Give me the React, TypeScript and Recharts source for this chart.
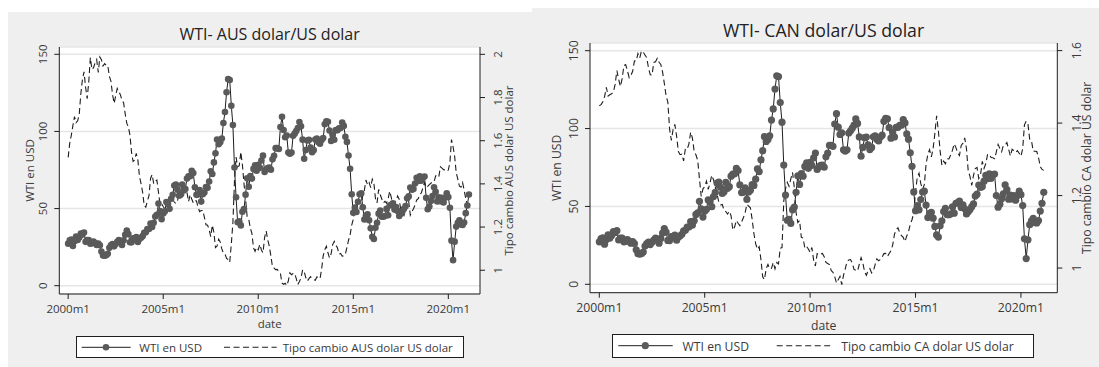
import { ComposedChart, Line, XAxis, YAxis, CartesianGrid, Legend } from 'recharts';

// Monthly series, 2000m1 .. 2021m2 (index 0 = 2000m1)
const wtiUsd: number[] = [
  27.26, 29.37, 29.84, 25.72, 28.79, 31.82, 29.7, 31.26, 33.88, 33.11, 34.42, 28.44,
  29.59, 29.61, 27.25, 27.49, 28.63, 27.6, 26.43, 27.37, 26.2, 22.17, 19.64, 19.39,
  19.72, 20.72, 24.53, 26.18, 27.04, 25.52, 26.97, 28.39, 29.66, 28.84, 26.35, 29.46,
  32.95, 35.83, 33.51, 28.17, 28.11, 30.66, 30.75, 31.57, 28.31, 30.34, 31.11, 32.13,
  34.31, 34.69, 36.74, 36.75, 40.28, 38.03, 40.78, 44.9, 45.94, 53.28, 48.47, 43.15,
  46.84, 48.15, 54.19, 52.98, 49.83, 56.35, 59.0, 64.99, 65.59, 62.26, 58.32, 59.41,
  65.49, 61.63, 62.69, 69.44, 70.84, 70.95, 74.41, 73.04, 63.8, 58.89, 59.08, 61.96,
  54.51, 59.28, 60.44, 63.98, 63.46, 67.49, 74.12, 72.36, 79.92, 85.8, 94.77, 91.69,
  92.97, 95.39, 105.45, 112.58, 125.4, 133.88, 133.37, 116.67, 104.11, 76.61, 57.31, 41.12,
  41.71, 39.09, 47.94, 49.65, 59.03, 69.64, 64.15, 71.05, 69.41, 75.72, 77.99, 74.47,
  78.33, 76.39, 81.2, 84.29, 73.74, 75.34, 76.32, 76.6, 75.24, 81.89, 84.25, 89.15,
  89.17, 88.58, 102.86, 109.53, 100.9, 96.26, 97.3, 86.33, 85.52, 86.32, 97.16, 98.56,
  100.27, 102.2, 106.16, 103.32, 94.66, 82.3, 87.9, 94.13, 94.51, 89.49, 86.53, 87.86,
  94.76, 95.31, 92.94, 92.02, 94.51, 95.77, 104.67, 106.57, 106.29, 100.54, 93.86, 97.63,
  94.62, 100.82, 100.8, 102.07, 102.18, 105.79, 103.59, 96.54, 93.21, 84.4, 75.79, 59.29,
  47.22, 50.58, 47.82, 54.45, 59.27, 59.82, 50.9, 42.87, 45.48, 46.22, 42.44, 37.19,
  31.68, 30.32, 37.55, 40.75, 46.71, 48.76, 44.65, 44.72, 45.18, 49.78, 45.66, 51.97,
  52.5, 53.47, 49.33, 51.06, 48.48, 45.18, 46.63, 48.04, 49.82, 51.58, 56.64, 57.88,
  63.7, 62.23, 62.73, 66.25, 69.98, 67.87, 70.98, 68.06, 70.23, 70.75, 56.96, 49.52,
  51.38, 54.95, 58.15, 63.86, 60.83, 54.66, 57.35, 54.81, 56.95, 53.96, 57.03, 59.88,
  57.52, 50.54, 29.21, 16.55, 28.56, 38.31, 40.71, 42.34, 39.63, 39.4, 40.94, 47.02,
  52.0, 59.04,
];

const audPerUsd: number[] = [
  1.523, 1.589, 1.626, 1.671, 1.712, 1.684, 1.692, 1.724, 1.818, 1.883, 1.919, 1.848,
  1.795, 1.873, 1.985, 1.93, 1.938, 1.961, 1.976, 1.916, 1.988, 1.975, 1.946, 1.957,
  1.949, 1.949, 1.898, 1.876, 1.815, 1.773, 1.808, 1.842, 1.828, 1.812, 1.786, 1.776,
  1.724, 1.681, 1.664, 1.626, 1.546, 1.504, 1.511, 1.541, 1.511, 1.435, 1.401, 1.362,
  1.3, 1.292, 1.321, 1.344, 1.425, 1.443, 1.401, 1.412, 1.418, 1.362, 1.304, 1.307,
  1.295, 1.285, 1.282, 1.295, 1.311, 1.309, 1.328, 1.316, 1.309, 1.321, 1.353, 1.355,
  1.339, 1.348, 1.385, 1.361, 1.318, 1.35, 1.33, 1.312, 1.323, 1.321, 1.292, 1.272,
  1.277, 1.277, 1.245, 1.211, 1.209, 1.188, 1.156, 1.209, 1.175, 1.105, 1.112, 1.144,
  1.131, 1.099, 1.08, 1.075, 1.055, 1.05, 1.037, 1.121, 1.221, 1.414, 1.524, 1.479,
  1.484, 1.548, 1.488, 1.401, 1.328, 1.248, 1.236, 1.195, 1.171, 1.104, 1.088, 1.106,
  1.095, 1.12, 1.094, 1.081, 1.151, 1.182, 1.14, 1.111, 1.065, 1.015, 1.01, 1.003,
  1.004, 0.993, 0.985, 0.94, 0.935, 0.94, 0.929, 0.951, 0.988, 0.979, 0.985, 0.986,
  0.961, 0.934, 0.948, 0.964, 1.002, 0.994, 0.966, 0.95, 0.961, 0.97, 0.961, 0.957,
  0.954, 0.969, 0.967, 0.961, 1.005, 1.067, 1.095, 1.111, 1.081, 1.057, 1.076, 1.119,
  1.134, 1.116, 1.104, 1.074, 1.078, 1.065, 1.067, 1.075, 1.106, 1.139, 1.164, 1.209,
  1.235, 1.282, 1.307, 1.292, 1.282, 1.295, 1.35, 1.37, 1.418, 1.395, 1.406, 1.383,
  1.422, 1.403, 1.332, 1.312, 1.374, 1.351, 1.33, 1.312, 1.319, 1.311, 1.332, 1.366,
  1.337, 1.305, 1.312, 1.323, 1.344, 1.328, 1.279, 1.261, 1.253, 1.289, 1.314, 1.319,
  1.255, 1.271, 1.285, 1.302, 1.325, 1.332, 1.35, 1.359, 1.383, 1.406, 1.383, 1.389,
  1.397, 1.403, 1.41, 1.41, 1.437, 1.441, 1.433, 1.479, 1.473, 1.466, 1.464, 1.458,
  1.464, 1.499, 1.605, 1.572, 1.527, 1.451, 1.422, 1.389, 1.385, 1.406, 1.37, 1.333,
  1.299, 1.294,
];

const cadPerUsd: number[] = [
  1.4481, 1.4509, 1.4589, 1.4732, 1.4986, 1.4747, 1.4782, 1.4807, 1.4856, 1.5067, 1.5446, 1.5211,
  1.5012, 1.5226, 1.5589, 1.5615, 1.5445, 1.5251, 1.5318, 1.5431, 1.5716, 1.5714, 1.5917, 1.5798,
  1.599, 1.5956, 1.5878, 1.5802, 1.5523, 1.5334, 1.5323, 1.5672, 1.569, 1.5787, 1.5677, 1.5618,
  1.5411, 1.51, 1.4761, 1.4582, 1.384, 1.3525, 1.3821, 1.3963, 1.3639, 1.3216, 1.3128, 1.3143,
  1.2958, 1.3299, 1.3286, 1.342, 1.375, 1.3586, 1.3216, 1.3127, 1.2975, 1.2469, 1.1975, 1.2185,
  1.2243, 1.24, 1.217, 1.2343, 1.2561, 1.2438, 1.2238, 1.2044, 1.1825, 1.1741, 1.1753, 1.1594,
  1.156, 1.149, 1.1568, 1.1441, 1.1049, 1.1132, 1.1315, 1.1237, 1.1172, 1.1273, 1.1388, 1.1526,
  1.176, 1.171, 1.1662, 1.1346, 1.0953, 1.0673, 1.0519, 1.059, 1.0236, 0.9761, 0.9681, 0.9989,
  1.01, 0.9978, 0.9991, 1.0152, 0.9978, 1.0152, 1.0113, 1.0549, 1.0566, 1.1847, 1.2186, 1.2362,
  1.2255, 1.2459, 1.264, 1.2213, 1.1532, 1.1255, 1.1311, 1.0846, 1.0827, 1.0546, 1.0592, 1.0527,
  1.0435, 1.0568, 1.0219, 1.0057, 1.0398, 1.0366, 1.0388, 1.0402, 1.0315, 1.0157, 1.0124, 1.0097,
  0.9932, 0.9883, 0.9764, 0.9588, 0.968, 0.9771, 0.9541, 0.9798, 0.998, 1.018, 1.0224, 1.0234,
  1.0139, 0.9962, 0.994, 0.9916, 1.0105, 1.0289, 1.0142, 0.9899, 0.9801, 0.9929, 0.9984, 0.9867,
  0.992, 1.0097, 1.0254, 1.02, 1.0236, 1.0302, 1.0398, 1.0403, 1.032, 1.04, 1.0477, 1.0635,
  1.093, 1.1051, 1.1112, 1.0975, 1.0892, 1.0845, 1.0733, 1.0886, 1.0999, 1.1212, 1.1334, 1.1531,
  1.2117, 1.2509, 1.2619, 1.2329, 1.2167, 1.2301, 1.2865, 1.3141, 1.3267, 1.3068, 1.3291, 1.371,
  1.4198, 1.3793, 1.3229, 1.2838, 1.2951, 1.288, 1.3017, 1.3011, 1.3119, 1.3246, 1.3427, 1.3323,
  1.3179, 1.3105, 1.3384, 1.3446, 1.3592, 1.3297, 1.2675, 1.2528, 1.2281, 1.256, 1.2746, 1.2778,
  1.247, 1.2572, 1.2942, 1.2751, 1.2884, 1.3129, 1.3147, 1.3048, 1.3042, 1.3016, 1.3206, 1.3412,
  1.3298, 1.3207, 1.3381, 1.3393, 1.3464, 1.3278, 1.3093, 1.3276, 1.3236, 1.3188, 1.3241, 1.3169,
  1.3085, 1.3294, 1.3951, 1.4051, 1.3976, 1.3549, 1.3513, 1.3227, 1.3224, 1.3216, 1.305, 1.28,
  1.2721, 1.2695,
];

const dateTicks = [0, 60, 120, 180, 240];
const dateLabels = ['2000m1', '2005m1', '2010m1', '2015m1', '2020m1'];
const wtiTicks = [0, 50, 100, 150];
const audTicks = [1, 1.2, 1.4, 1.6, 1.8, 2];
const cadTicks = [1, 1.2, 1.4, 1.6];

const FONT = '"Open Sans", "DejaVu Sans", sans-serif';
const INK = '#1e1e1e';
const TEXT = '#3a3a3a';
const MARKER = '#5a5a5a';
const PANEL_BG = '#efefef';
const DASH = '6 3.5';

const VTick = (props: any) => {
  const { x, y, payload, side, d, fs } = props;
  const cx = side === 'left' ? x - d : x + d;
  return (
    <text x={cx} y={y} transform={`rotate(-90 ${cx} ${y})`} textAnchor="middle"
      dominantBaseline="central" fontSize={fs} fontFamily={FONT} fill={TEXT}>
      {String(payload.value)}
    </text>
  );
};

const DateTick = (props: any) => {
  const { x, y, payload, d, fs } = props;
  const label = dateLabels[dateTicks.indexOf(payload.value)];
  return (
    <text x={x} y={y + d} textAnchor="middle" dominantBaseline="central"
      fontSize={fs} fontFamily={FONT} fill={TEXT}>
      {label}
    </text>
  );
};

const VTitle = (props: any) => {
  const { viewBox, px, text, fs } = props;
  const cy = viewBox ? viewBox.y + viewBox.height / 2 : 160;
  return (
    <text x={px} y={cy} transform={`rotate(-90 ${px} ${cy})`} textAnchor="middle"
      dominantBaseline="central" fontSize={fs} fontFamily={FONT} fill={TEXT}>
      {text}
    </text>
  );
};

const HTitle = (props: any) => {
  const { viewBox, py, text, fs } = props;
  const cx = viewBox ? viewBox.x + viewBox.width / 2 : 260;
  return (
    <text x={cx} y={py} textAnchor="middle" dominantBaseline="central"
      fontSize={fs} fontFamily={FONT} fill={TEXT}>
      {text}
    </text>
  );
};

interface LegendGeom {
  x: number; y: number; w: number; h: number;
  l1: number; l2: number; m: number; t1: number; d1: number; d2: number; t2: number;
}

const LegendBox = ({ g, fxLabel, fs, r }: { g: LegendGeom; fxLabel: string; fs: number; r: number }) => {
  const mid = g.h / 2 - 1;
  return (
    <div style={{
      position: 'relative', width: g.w, height: g.h, boxSizing: 'border-box',
      border: `1px solid ${INK}`, background: '#fff', fontFamily: FONT, fontSize: fs, color: TEXT,
    }}>
      <svg width={g.w} height={g.h} style={{ position: 'absolute', left: -1, top: -1 }}>
        <line x1={g.l1} x2={g.l2} y1={mid + 1} y2={mid + 1} stroke={INK} strokeWidth={1} />
        <circle cx={g.m} cy={mid + 1} r={r} fill={MARKER} />
        <line x1={g.d1} x2={g.d2} y1={mid + 1} y2={mid + 1} stroke={INK} strokeWidth={1.1} strokeDasharray={DASH} />
      </svg>
      <span style={{ position: 'absolute', left: g.t1 - 1, top: mid, transform: 'translateY(-50%)', whiteSpace: 'nowrap' }}>
        WTI en USD
      </span>
      <span style={{ position: 'absolute', left: g.t2 - 1, top: mid, transform: 'translateY(-50%)', whiteSpace: 'nowrap' }}>
        {fxLabel}
      </span>
    </div>
  );
};

interface PanelProps {
  left: number; top: number; width: number; height: number;
  plotLeft: number; plotRight: number; plotTop: number; plotBottom: number;
  title: string; titleX: number; titleY: number; titleFs: number;
  fs: number; r: number;
  fx: number[]; fxTicks: number[]; fxDomain: [number, number];
  wtiDomain: [number, number]; xDomain: [number, number];
  fxAxisTitle: string; fxLabel: string;
  leftTitleX: number; rightTitleX: number; dateY: number;
  tickD: [number, number, number];
  legend: LegendGeom;
}

const Panel = (p: PanelProps) => {
  const rows = p.fx.map((v, i) => ({ t: i, wti: wtiUsd[i], fx: v }));
  return (
    <div style={{ position: 'absolute', left: p.left, top: p.top, width: p.width, height: p.height, background: PANEL_BG }}>
      <div style={{
        position: 'absolute', left: p.titleX - 200, width: 400, top: p.titleY, transform: 'translateY(-50%)',
        textAlign: 'center', fontFamily: FONT, fontSize: p.titleFs, color: '#222', whiteSpace: 'nowrap', zIndex: 2,
      }}>
        {p.title}
      </div>
      <ComposedChart width={p.width} height={p.height} data={rows}
        margin={{ top: p.plotTop, right: 0, bottom: 0, left: 0 }}>
        <CartesianGrid yAxisId="wti" vertical={false} stroke="#e6e6e6" strokeWidth={1.5} fill="#fff" fillOpacity={1} />
        <XAxis dataKey="t" type="number" domain={p.xDomain} ticks={dateTicks} allowDataOverflow
          height={p.height - p.plotBottom} tickSize={5} tickMargin={0}
          axisLine={{ stroke: INK }} tickLine={{ stroke: INK }}
          tick={<DateTick d={p.tickD[2]} fs={p.fs} />}
          label={<HTitle py={p.dateY} text="date" fs={p.fs} />} />
        <YAxis yAxisId="wti" orientation="left" type="number" domain={p.wtiDomain} ticks={wtiTicks}
          allowDataOverflow width={p.plotLeft} tickSize={5} tickMargin={0}
          axisLine={{ stroke: INK }} tickLine={{ stroke: INK }}
          tick={<VTick side="left" d={p.tickD[0]} fs={p.fs} />}
          label={<VTitle px={p.leftTitleX} text="WTI en USD" fs={p.fs} />} />
        <YAxis yAxisId="fx" orientation="right" type="number" domain={p.fxDomain} ticks={p.fxTicks}
          allowDataOverflow width={p.width - p.plotRight} tickSize={5} tickMargin={0}
          axisLine={{ stroke: INK }} tickLine={{ stroke: INK }}
          tick={<VTick side="right" d={p.tickD[1]} fs={p.fs} />}
          label={<VTitle px={p.rightTitleX} text={p.fxAxisTitle} fs={p.fs} />} />
        <Line yAxisId="wti" dataKey="wti" type="linear" stroke={INK} strokeWidth={1}
          dot={{ r: p.r, fill: MARKER, stroke: 'none' }} activeDot={false} isAnimationActive={false} />
        <Line yAxisId="fx" dataKey="fx" type="linear" stroke={INK} strokeWidth={1.1}
          strokeDasharray={DASH} dot={false} activeDot={false} isAnimationActive={false} />
        <Legend verticalAlign="middle" align="center" layout="horizontal"
          wrapperStyle={{ left: p.legend.x, top: p.legend.y, width: p.legend.w, height: p.legend.h }}
          content={() => <LegendBox g={p.legend} fxLabel={p.fxLabel} fs={p.fs} r={p.r} />} />
      </ComposedChart>
    </div>
  );
};

export default function App() {
  return (
    <div style={{ position: 'absolute', left: 0, top: 0, width: 1099, height: 367, background: '#fff', overflow: 'hidden' }}>
      <Panel
        left={8} top={12} width={524} height={355}
        plotLeft={51.3} plotRight={472} plotTop={35} plotBottom={282}
        title="WTI- AUS dolar/US dolar" titleX={261.6} titleY={22} titleFs={16}
        fs={11.5} r={3.3}
        fx={audPerUsd} fxTicks={audTicks} fxDomain={[0.89, 2.034]}
        wtiDomain={[-5.38, 154.73]} xDomain={[-5.6, 260.0]}
        fxAxisTitle="Tipo cambio AUS dolar US dolar" fxLabel="Tipo cambio AUS dolar US dolar"
        leftTitleX={21.3} rightTitleX={500.3} dateY={311}
        tickD={[11.6, 12.3, 9]}
        legend={{ x: 68, y: 323.7, w: 388, h: 22.6, l1: 5.7, l2: 54.7, m: 30, t1: 63.3, d1: 148, d2: 200.7, t2: 206.7 }}
      />
      <Panel
        left={532} top={8} width={567} height={359}
        plotLeft={58} plotRight={525.3} plotTop={35} plotBottom={284.7}
        title="WTI- CAN dolar/US dolar" titleX={291.6} titleY={22} titleFs={17.7}
        fs={12.2} r={3.6}
        fx={cadPerUsd} fxTicks={cadTicks} fxDomain={[0.932, 1.621]}
        wtiDomain={[-5.39, 154.94]} xDomain={[-5.3, 260.7]}
        fxAxisTitle="Tipo cambio CA dolar US dolar" fxLabel="Tipo cambio CA dolar US dolar"
        leftTitleX={24.7} rightTitleX={554.7} dateY={317.5}
        tickD={[11.7, 14.4, 9.6]}
        legend={{ x: 80.3, y: 326.3, w: 421.7, h: 23.4, l1: 6.3, l2: 60.7, m: 33.3, t1: 70.3, d1: 164.7, d2: 219.4, t2: 229 }}
      />
    </div>
  );
}
